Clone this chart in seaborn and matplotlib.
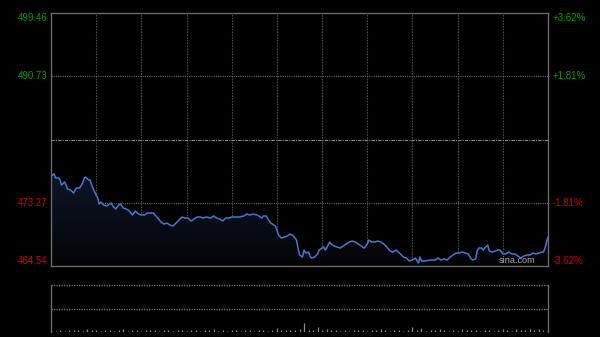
import numpy as np
import pandas as pd
import matplotlib
matplotlib.use("Agg")
import matplotlib.pyplot as plt
import seaborn as sns
from matplotlib.colors import LinearSegmentedColormap

# ---- data ----
minutes = [0, 2, 3, 5, 6, 7, 9, 10, 11, 13, 15, 16, 17, 19, 21, 22, 23, 25, 26, 27,
           29, 31, 32, 33, 35, 37, 39, 40, 41, 43, 45, 46, 48, 50, 52, 54, 56, 58, 60, 62,
           64, 66, 68, 69, 71, 73, 75, 77, 79, 81, 83, 85, 87, 89, 91, 93, 95, 97, 99, 101,
           103, 106, 108, 110, 112, 114, 116, 118, 120, 123, 125, 128, 130, 132, 134, 137, 139, 140, 141, 143,
           144, 146, 149, 150, 151, 153, 155, 157, 159, 161, 163, 164, 165, 167, 168, 169, 171, 172, 173, 175,
           177, 178, 179, 181, 182, 183, 185, 186, 188, 190, 192, 194, 196, 198, 200, 202, 204, 206, 208, 210,
           211, 213, 215, 217, 219, 221, 223, 225, 227, 229, 232, 234, 236, 238, 240, 242, 244, 245, 246, 248,
           252, 255, 257, 259, 261, 263, 265, 267, 269, 271, 273, 275, 277, 279, 280, 282, 283, 284, 286, 287,
           288, 290, 291, 293, 295, 297, 298, 300, 302, 304, 306, 308, 310, 312, 314, 316, 318, 320, 322, 324,
           326, 327, 328, 330]
prices = [476.96, 477.24, 476.69, 476.69, 476.41, 475.72, 476.13, 475.72, 475.17, 475.03, 474.62, 475.03, 475.31, 475.31, 476.00, 476.69, 476.82, 476.41, 476.41, 475.72,
          474.75, 473.93, 473.10, 473.37, 472.96, 472.82, 473.10, 473.24, 472.82, 472.41, 472.96, 473.10, 472.55, 472.41, 472.13, 471.58, 472.13, 471.72, 471.58, 471.58,
          471.86, 471.86, 471.86, 471.58, 471.16, 470.61, 470.34, 470.47, 470.20, 470.06, 470.47, 470.89, 471.30, 471.16, 471.16, 470.75, 471.03, 471.30, 471.30, 471.16,
          471.30, 471.16, 471.44, 471.16, 471.03, 470.75, 471.16, 471.16, 471.30, 471.30, 471.30, 471.44, 471.72, 471.58, 471.72, 471.58, 471.30, 471.16, 471.44, 471.44,
          471.03, 470.47, 470.06, 469.51, 468.82, 468.40, 468.54, 468.68, 468.96, 468.68, 468.13, 467.02, 466.06, 465.78, 466.75, 466.33, 466.47, 465.92, 465.64, 465.78,
          466.20, 466.75, 466.89, 467.16, 466.75, 467.02, 467.85, 467.58, 467.30, 467.16, 467.02, 467.30, 467.58, 467.85, 467.99, 467.85, 467.58, 467.30, 467.02, 467.58,
          468.13, 467.85, 467.85, 467.99, 467.85, 467.58, 467.16, 466.61, 466.47, 466.75, 466.20, 465.78, 465.64, 465.23, 465.37, 465.64, 464.95, 465.78, 465.23, 465.23,
          465.37, 465.37, 465.64, 465.37, 465.51, 465.37, 465.78, 466.06, 466.33, 466.33, 466.47, 466.33, 466.20, 465.51, 465.37, 465.51, 466.61, 467.02, 467.02, 466.75,
          467.02, 467.44, 466.61, 466.47, 466.61, 466.75, 466.75, 466.20, 466.20, 466.47, 466.20, 466.20, 465.92, 465.64, 465.92, 466.06, 466.06, 466.33, 466.20, 466.33,
          466.47, 466.47, 467.02, 468.54]

vol_minutes = list(range(0, 331, 3))
volumes = [35, 15, 20, 12, 25, 18, 22, 14, 28, 16,
           20, 12, 24, 18, 15, 22, 26, 14, 18, 20,
           12, 25, 16, 20, 14, 18, 22, 12, 16, 24,
           14, 18, 20, 12, 22, 16, 26, 14, 18, 12,
           20, 16, 14, 22, 18, 12, 16, 20, 14, 18,
           45, 20, 16, 24, 18, 30, 90, 22, 20, 50,
           18, 26, 16, 22, 14, 18, 12, 24, 16, 20,
           14, 18, 22, 30, 16, 14, 20, 18, 12, 16,
           50, 20, 45, 14, 18, 22, 26, 16, 14, 20,
           12, 28, 18, 16, 22, 14, 18, 20, 12, 16,
           28, 18, 14, 26, 16, 22, 28, 18, 30, 24,
           26]

left_labels = ["499.46", "490.73", "473.27", "464.54"]
left_values = [499.46, 490.73, 473.27, 464.54]
right_labels = ["+3.62%", "+1.81%", "-1.81%", "-3.62%"]
label_colors = ["#00a000", "#00a000", "#d40000", "#d40000"]
prev_close = 482.00
y_min, y_max = 464.54, 499.46
x_max = 330
grid_minutes = [30, 60, 90, 120, 150, 180, 210, 240, 270, 300]

df = pd.DataFrame({"minute": minutes, "price": prices})

sns.set_theme(style="dark")
plt.rcParams["font.family"] = ["Liberation Sans", "DejaVu Sans"]

fig = plt.figure(figsize=(6.0, 3.37), dpi=100, facecolor="black")
ax = fig.add_axes([51 / 600, 1 - 266 / 337, 497 / 600, 253 / 337])
axv = fig.add_axes([51 / 600, 1 - 332 / 337, 497 / 600, 47 / 337])

for a in (ax, axv):
    a.set_facecolor("black")
    a.grid(False)
    a.set_xticks([])
    a.set_yticks([])
    a.set_xlabel("")
    a.set_ylabel("")
    a.set_xlim(0, x_max)

ax.set_ylim(y_min, y_max)

# gradient fill below the line
poly = ax.fill_between(df["minute"], df["price"], y_min, facecolor="none", edgecolor="none")
grad = np.linspace(0, 1, 256).reshape(-1, 1)
cmap = LinearSegmentedColormap.from_list("g", ["#030406", "#0e1626"])
im = ax.imshow(grad, aspect="auto", cmap=cmap, origin="lower",
               extent=[0, x_max, y_min, max(prices)], zorder=1)
im.set_clip_path(poly.get_paths()[0], transform=ax.transData)

# grid lines
for m in grid_minutes:
    ax.axvline(m, color="#484848", lw=0.8, ls=(0, (1.5, 1)), zorder=0.5)
ax.axhline(490.73, color="#666666", lw=0.8, ls=(0, (1, 1)), zorder=0.5)
ax.axhline(473.27, color="#666666", lw=0.8, ls=(0, (1, 1)), zorder=0.5)
ax.axhline(prev_close, color="#888888", lw=0.8, ls=(0, (3, 1, 1, 1)), zorder=0.5)

sns.lineplot(data=df, x="minute", y="price", ax=ax, color="#4478d0", lw=1.1, zorder=3)
ax.set_xlabel("")
ax.set_ylabel("")
ax.set_xticks([])
ax.set_yticks([])

for s in ax.spines.values():
    s.set_color("#6a6a6a")
    s.set_linewidth(1.0)
    s.set_visible(True)

# labels
trans = ax.get_yaxis_transform()
for i, (lab, val, rlab, col) in enumerate(zip(left_labels, left_values, right_labels, label_colors)):
    va = "center"
    if i == 0:
        va = "top"
    elif i == len(left_labels) - 1:
        va = "bottom"
    ax.text(-0.007, val, lab, transform=trans, ha="right", va=va, color=col, fontsize=7)
    ax.text(1.010, val, rlab, transform=trans, ha="left", va=va, color=col, fontsize=7)

ax.text(0.9376, 0.004, "sina.com", transform=ax.transAxes, ha="center", va="bottom",
        color="#a8a8a8", fontsize=6.6, zorder=4)

# volume panel
axv.set_ylim(0, 470)
axv.vlines(vol_minutes, 0, volumes, color="#8a8a8a", lw=0.9)
axv.axhline(470, color="#7a7a7a", lw=0.9, ls=(0, (1, 1)), clip_on=False)
axv.axhline(235, color="#7a7a7a", lw=0.9, ls=(0, (1, 1)))
for side in ("top", "bottom"):
    axv.spines[side].set_visible(False)
for side in ("left", "right"):
    axv.spines[side].set_color("#6a6a6a")
    axv.spines[side].set_linewidth(1.0)
    axv.spines[side].set_visible(True)

fig.savefig("out.png", dpi=100, facecolor="black")
